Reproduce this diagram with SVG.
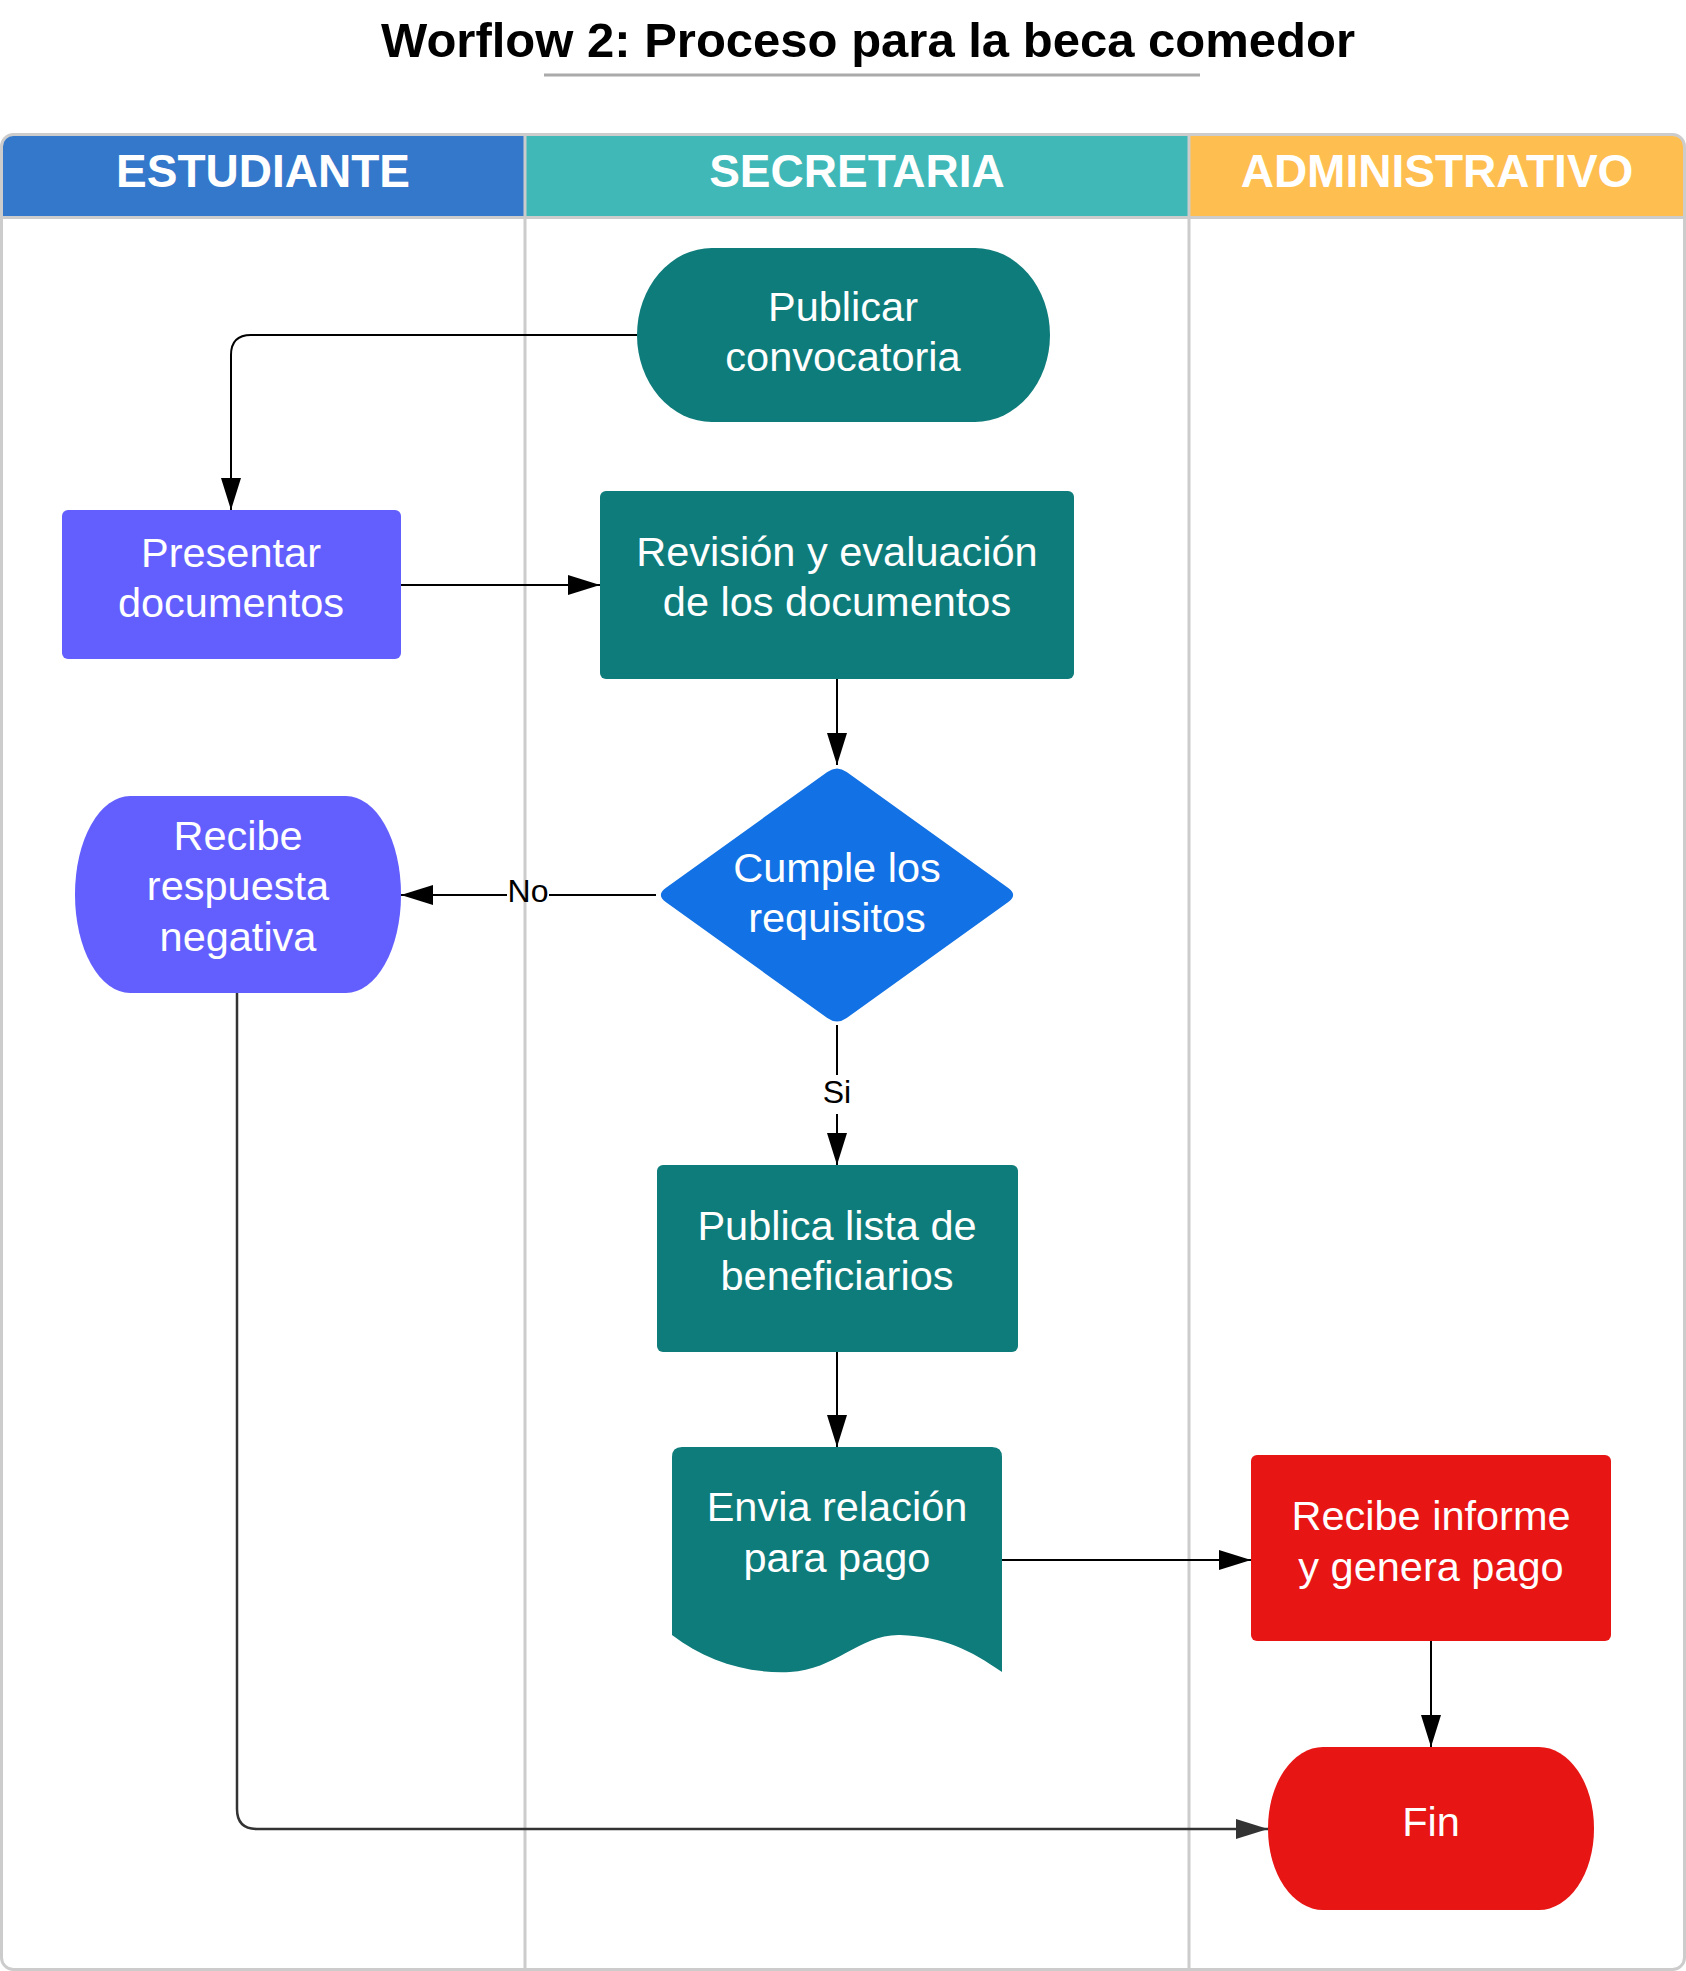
<svg xmlns="http://www.w3.org/2000/svg" width="1686" height="1971" viewBox="0 0 1686 1971">
<style>
.title{font-family:"Liberation Sans",Arial,sans-serif;font-weight:bold;font-size:49px;fill:#000;text-anchor:middle}
.hdr{font-family:"Liberation Sans",Arial,sans-serif;font-weight:bold;font-size:46px;fill:#fff;text-anchor:middle}
.nt{font-family:"Liberation Sans",Arial,sans-serif;font-size:41.5px;fill:#fff;text-anchor:middle}
.lbl{font-family:"Liberation Sans",Arial,sans-serif;font-size:32px;fill:#000;text-anchor:middle}
.lane{stroke:#cccccc;stroke-width:3;fill:none}
.c{fill:none;stroke:#000;stroke-width:2}
.c2{fill:none;stroke:#333;stroke-width:2.5}
.teal{fill:#0e7c7b}
.purple{fill:#635fff}
.blue{fill:#1271e4}
.red{fill:#e81515}
</style>
<defs>
<clipPath id="pool"><rect x="1.5" y="134.5" width="1683" height="1835" rx="12" ry="12"/></clipPath>
<marker id="ah" viewBox="0 0 32 20" refX="32" refY="10" markerWidth="32" markerHeight="20" orient="auto" markerUnits="userSpaceOnUse"><path d="M0,0 L32,10 L0,20 Z" fill="#000"/></marker>
<marker id="ah2" viewBox="0 0 32 20" refX="32" refY="10" markerWidth="32" markerHeight="20" orient="auto" markerUnits="userSpaceOnUse"><path d="M0,0 L32,10 L0,20 Z" fill="#333"/></marker>
</defs>
<rect x="0" y="0" width="1686" height="1971" fill="#fff"/>
<g id="title">
<text class="title" x="868" y="57">Worflow 2: Proceso para la beca comedor</text>
<line x1="544" y1="75" x2="1200" y2="75" stroke="#aaaaaa" stroke-width="3"/>
</g>
<g id="lanes">
<rect x="1.5" y="134.5" width="1683" height="1835" rx="12" ry="12" fill="#fff"/>
<g clip-path="url(#pool)">
<rect x="0" y="134" width="525" height="83" fill="#3478cc"/>
<rect x="525" y="134" width="664" height="83" fill="#40b8b8"/>
<rect x="1189" y="134" width="497" height="83" fill="#ffbe50"/>
</g>
<line class="lane" x1="1" y1="217.5" x2="1685" y2="217.5"/>
<line class="lane" x1="525" y1="134" x2="525" y2="1970"/>
<line class="lane" x1="1189" y1="134" x2="1189" y2="1970"/>
<rect class="lane" x="1.5" y="134.5" width="1683" height="1835" rx="12" ry="12"/>
<text class="hdr" x="263" y="187">ESTUDIANTE</text>
<text class="hdr" x="857" y="187">SECRETARIA</text>
<text class="hdr" x="1437" y="187">ADMINISTRATIVO</text>
</g>
<g id="connectors">
<path class="c" d="M637,335 L251,335 Q231,335 231,355 L231,510" marker-end="url(#ah)"/>
<path class="c" d="M401,585 L600,585" marker-end="url(#ah)"/>
<path class="c" d="M837,679 L837,765" marker-end="url(#ah)"/>
<path class="c" d="M656,895 L549,895 M507,895 L401,895" marker-end="url(#ah)"/>
<path class="c" d="M837,1025 L837,1075 M837,1114 L837,1165" marker-end="url(#ah)"/>
<path class="c" d="M837,1352 L837,1447" marker-end="url(#ah)"/>
<path class="c" d="M1002,1560 L1251,1560" marker-end="url(#ah)"/>
<path class="c" d="M1431,1641 L1431,1747" marker-end="url(#ah)"/>
<path class="c2" d="M237,993 L237,1809 Q237,1829 257,1829 L1268,1829" marker-end="url(#ah2)"/>
<text class="lbl" x="528" y="902">No</text>
<text class="lbl" x="837" y="1103">Si</text>
</g>
<g id="publicar">
<rect class="teal" x="637" y="248" width="413" height="174" rx="75" ry="87"/>
<text class="nt" x="843" y="321">Publicar</text>
<text class="nt" x="843" y="371">convocatoria</text>
</g>
<g id="presentar">
<rect class="purple" x="62" y="510" width="339" height="149" rx="6"/>
<text class="nt" x="231" y="567">Presentar</text>
<text class="nt" x="231" y="617">documentos</text>
</g>
<g id="revision">
<rect class="teal" x="600" y="491" width="474" height="188" rx="6"/>
<text class="nt" x="837" y="566">Revisión y evaluación</text>
<text class="nt" x="837" y="616">de los documentos</text>
</g>
<g id="cumple">
<path class="blue" d="M846.7,772 L1008.3,888 Q1018,895 1008.3,902 L846.7,1018 Q837,1025 827.3,1018 L665.7,902 Q656,895 665.7,888 L827.3,772 Q837,765 846.7,772 Z"/>
<text class="nt" x="837" y="882">Cumple los</text>
<text class="nt" x="837" y="932">requisitos</text>
</g>
<g id="negativa">
<rect class="purple" x="75" y="796" width="326" height="197" rx="55" ry="98"/>
<text class="nt" x="238" y="850">Recibe</text>
<text class="nt" x="238" y="900">respuesta</text>
<text class="nt" x="238" y="951">negativa</text>
</g>
<g id="publica">
<rect class="teal" x="657" y="1165" width="361" height="187" rx="6"/>
<text class="nt" x="837" y="1240">Publica lista de</text>
<text class="nt" x="837" y="1290">beneficiarios</text>
</g>
<g id="envia">
<path class="teal" d="M682,1447 L992,1447 Q1002,1447 1002,1457 L1002,1672 C970,1650 945,1637 900,1635 C860,1634 835,1670 790,1672 C745,1674 705,1660 672,1635 L672,1457 Q672,1447 682,1447 Z"/>
<text class="nt" x="837" y="1521">Envia relación</text>
<text class="nt" x="837" y="1572">para pago</text>
</g>
<g id="recibe-informe">
<rect class="red" x="1251" y="1455" width="360" height="186" rx="6"/>
<text class="nt" x="1431" y="1530">Recibe informe</text>
<text class="nt" x="1431" y="1581">y genera pago</text>
</g>
<g id="fin">
<rect class="red" x="1268" y="1747" width="326" height="163" rx="55" ry="81"/>
<text class="nt" x="1431" y="1836">Fin</text>
</g>
</svg>
